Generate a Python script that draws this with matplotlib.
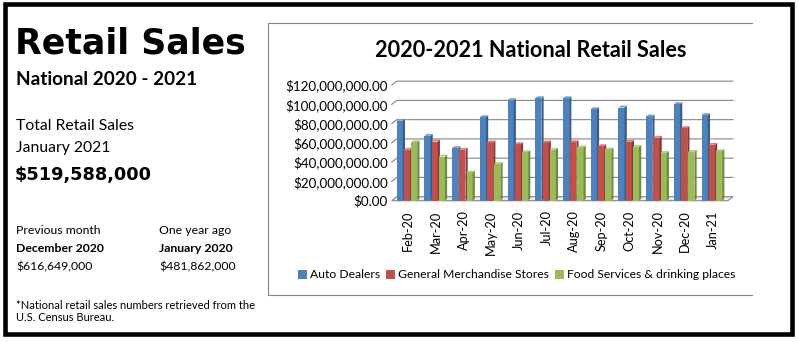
import matplotlib
matplotlib.use('Agg')
from matplotlib import pyplot as plt
from matplotlib.patches import Polygon, Patch, Rectangle
from matplotlib.lines import Line2D
from matplotlib.ticker import FuncFormatter

months = ['Feb-20', 'Mar-20', 'Apr-20', 'May-20', 'Jun-20', 'Jul-20',
          'Aug-20', 'Sep-20', 'Oct-20', 'Nov-20', 'Dec-20', 'Jan-21']
auto_dealers = [83.0e6, 67.4e6, 54.6e6, 86.8e6, 104.4e6, 106.5e6,
                106.5e6, 95.1e6, 96.8e6, 87.5e6, 100.3e6, 88.9e6]
general_merch = [52.9e6, 61.5e6, 52.9e6, 60.5e6, 58.7e6, 60.5e6,
                 60.8e6, 56.6e6, 61.2e6, 65.4e6, 75.4e6, 58.1e6]
food_services = [60.8e6, 45.9e6, 29.3e6, 38.3e6, 50.4e6, 52.9e6,
                 55.3e6, 53.2e6, 56.0e6, 49.7e6, 50.8e6, 51.5e6]
series_names = ['Auto Dealers', 'General Merchandise Stores',
                'Food Services & drinking places']
yticks = [0, 20e6, 40e6, 60e6, 80e6, 100e6, 120e6]

front_cols = ['#4F81BD', '#C0504D', '#9BBB59']
side_cols = ['#385D8A', '#8C3836', '#71893F']
top_cols = ['#7BA0CD', '#D5807E', '#B7CE8A']
grid_col = '#868686'

W, H = 798, 342
fig = plt.figure(figsize=(W / 100, H / 100), dpi=100)


def fx(x):
    return x / W


def fy(y):
    return 1 - y / H


# outer frame and chart frame
fig.add_artist(Rectangle((fx(5), fy(333.5)), fx(786.5), 330 / H, transform=fig.transFigure,
                         fill=False, edgecolor='black', linewidth=3.3))
for xs, ys in [([268, 752], [23, 23]), ([268, 752], [295, 295]), ([268, 268], [23, 295])]:
    fig.add_artist(Line2D([fx(v) for v in xs], [fy(v) for v in ys], transform=fig.transFigure,
                          color=grid_col, linewidth=0.8))

# left panel
body = 'Lato'
fig.text(fx(15), fy(53.5), 'Retail Sales', fontsize=25, fontweight='bold', family='DejaVu Sans')
fig.text(fx(16), fy(85), 'National 2020 - 2021', fontsize=13.7, fontweight='bold', family=body)
fig.text(fx(16), fy(130), 'Total Retail Sales', fontsize=11.3, family=body)
fig.text(fx(16), fy(152), 'January 2021', fontsize=11.3, family=body)
fig.text(fx(15), fy(180), '$519,588,000', fontsize=12.8, fontweight='bold', family='DejaVu Sans')
fig.text(fx(16), fy(234), 'Previous month', fontsize=8.8, family=body)
fig.text(fx(16), fy(252), 'December 2020', fontsize=8.8, fontweight='bold', family=body)
fig.text(fx(16), fy(270), '$616,649,000', fontsize=8.8, family=body)
fig.text(fx(159), fy(234), 'One year ago', fontsize=8.8, family=body)
fig.text(fx(159), fy(252), 'January 2020', fontsize=8.8, fontweight='bold', family=body)
fig.text(fx(159), fy(270), '$481,862,000', fontsize=8.8, family=body)
fig.text(fx(16), fy(309), '*National retail sales numbers retrieved from the', fontsize=8, family=body)
fig.text(fx(16), fy(321), 'U.S. Census Bureau.', fontsize=8, family=body)

# chart title
fig.text(fx(531), fy(57), '2020-2021 National Retail Sales', fontsize=15.6, fontweight='bold',
         family=body, ha='center')

# plot area (front plane)
left, right, top, bottom = 391.7, 728, 85.2, 200.7
ax = fig.add_axes([fx(left), fy(bottom), (right - left) / W, (bottom - top) / H])
xmin, xmax = -0.59, 11.54
ymax = 120e6
ax.set_xlim(xmin, xmax)
ax.set_ylim(0, ymax)
for s in ax.spines.values():
    s.set_visible(False)
ax.patch.set_visible(False)

# depth of walls and bars, in data units
wall_dx, wall_dy = 0.18, 4.2e6
bar_dx, bar_dy = 0.08, 2.0e6

# floor and gridlines on the back and left walls
floor = Polygon([(xmin, 0), (xmax, 0), (xmax + wall_dx, wall_dy), (xmin + wall_dx, wall_dy)],
                closed=True, facecolor='#ececec', edgecolor=grid_col, linewidth=0.8, clip_on=False)
ax.add_patch(floor)
for v in yticks[1:]:
    ax.plot([xmin, xmin + wall_dx, xmax + wall_dx], [v, v + wall_dy, v + wall_dy],
            color=grid_col, linewidth=0.8, clip_on=False, zorder=1)

# bars with a simple 3D look
offsets = [-0.41, -0.15, 0.11]
bw = 0.22
all_series = [auto_dealers, general_merch, food_services]
for i in range(len(months)):
    for k, data in enumerate(all_series):
        x0 = i + offsets[k]
        x1 = x0 + bw
        h = data[i]
        ax.add_patch(Rectangle((x0, 0), bw, h, facecolor=front_cols[k], edgecolor='none', zorder=3))
        ax.add_patch(Polygon([(x1, 0), (x1 + bar_dx, bar_dy), (x1 + bar_dx, h + bar_dy), (x1, h)],
                             closed=True, facecolor=side_cols[k], edgecolor='none', zorder=3))
        ax.add_patch(Polygon([(x0, h), (x1, h), (x1 + bar_dx, h + bar_dy), (x0 + bar_dx, h + bar_dy)],
                             closed=True, facecolor=top_cols[k], edgecolor='none', zorder=3))

ax.set_yticks(yticks)
ax.yaxis.set_major_formatter(FuncFormatter(lambda v, p: '${:,.2f}'.format(v)))
ax.set_xticks(range(len(months)))
ax.set_xticklabels(months, rotation=90, va='top', ha='center')
ax.tick_params(axis='both', length=0, labelcolor='black')
ax.tick_params(axis='y', pad=3, labelsize=9.6)
ax.tick_params(axis='x', pad=7, labelsize=9.2)
for lab in ax.get_xticklabels() + ax.get_yticklabels():
    lab.set_family(body)

handles = [Patch(facecolor=c) for c in front_cols]
fig.legend(handles, series_names, loc='center', bbox_to_anchor=(fx(517), fy(275)), ncol=3,
           frameon=False, prop={'family': body, 'size': 8.7}, handlelength=0.7, handleheight=0.7,
           handletextpad=0.3, columnspacing=0.5, borderpad=0)

fig.savefig('out.png', dpi=100)
